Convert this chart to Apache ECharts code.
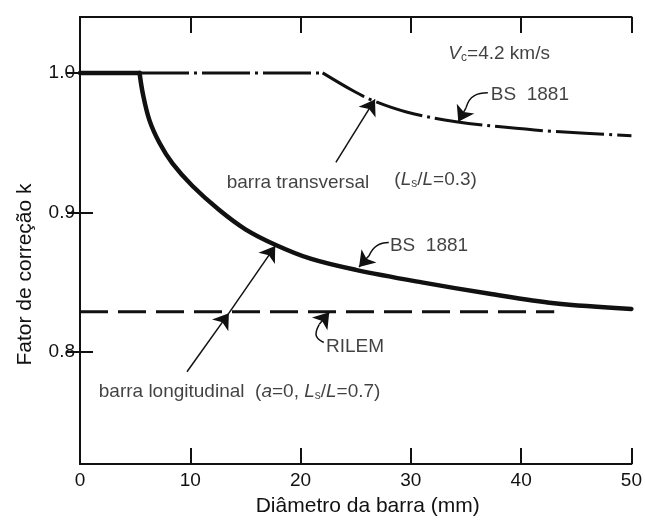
<!DOCTYPE html>
<html><head><meta charset="utf-8">
<script src="https://cdn.jsdelivr.net/npm/echarts@6/dist/echarts.min.js"></script>
<style>html,body{margin:0;padding:0;background:#fff}#c{width:645px;height:522px}</style>
</head><body><div id="c"></div>
<script>
// ---- data ----
const xTicks = [0, 10, 20, 30, 40, 50];
const yTicks = [0.8, 0.9, 1.0];
// BS 1881, longitudinal bar: flat part and decaying part
const longitudinalFlat = [[0,1.0],[5.4,1.0]];
const longitudinalBS = [[5.4,1.0],[5.7,0.985],[6.3,0.966],[7.2,0.95],[8.4,0.935],[10.2,0.919],[12.6,0.902],[15,0.888],[17.7,0.877],[20.9,0.867],[25,0.859],[31,0.85],[37,0.842],[43,0.835],[50,0.831]];
// BS 1881, transverse bar: flat part and decaying part
const transversalFlat = [[0,1.0],[22,1.0]];
const transversalBS = [[22,1.0],[24.8,0.987],[26.6,0.98],[29.6,0.972],[34.1,0.965],[38.6,0.961],[43.1,0.958],[50,0.955]];
const rilem = [[0,0.829],[43,0.829]];
// annotation texts and their anchor points (data coordinates)
const noteTexts = ['{i|V}{s|c}=4.2 km/s','BS  1881','barra transversal','({i|L}{s|s}/{i|L}=0.3)','BS  1881','RILEM','barra longitudinal  ({i|a}=0, {i|L}{s|s}/{i|L}=0.7)'];
const noteAnchors = [[33.4,1.014],[37.25,0.984],[13.3,0.921],[28.5,0.9236],[28.1,0.876],[22.3,0.8036],[1.7,0.772]];
// leader hooks (data coordinates)
const hookPaths = [
  [[36.98,0.9857],[35.73,0.9836],[35.0,0.975]],
  [[28.0,0.8786],[26.93,0.8764],[26.2,0.869]],
  [[22.1,0.807],[21.4,0.8129],[21.7,0.82]]
];
// arrow segments ending in an arrowhead
const arrowSegs = [
  [[23.2,0.936],[26.75,0.981]],
  [[9.7,0.786],[13.5,0.828]],
  [[13.5,0.828],[17.7,0.876]],
  [[35.0,0.975],[34.3,0.965]],
  [[26.2,0.869],[25.3,0.861]],
  [[21.7,0.82],[22.6,0.8286]]
];

const FONT = 'Liberation Sans, Arial, sans-serif';
const INK = '#111';
const chart = echarts.init(document.getElementById('c'), null, {renderer:'canvas'});
const rich = {
  i: {fontStyle:'italic', fontSize:19, fontFamily:FONT, color:INK},
  s: {fontSize:12, fontFamily:FONT, color:INK, padding:[9,0,0,0]}
};
const axisLineStyle = {lineStyle:{color:INK, width:2}};
const solidStyle = {color:INK, width:4.5, cap:'round', join:'round'};
const dashDot = {color:INK, width:3, type:[48,5,3,5]};
const series = [
  {type:'line', data:longitudinalFlat, symbol:'none', lineStyle:solidStyle, z:4},
  {type:'line', data:longitudinalBS, smooth:0.35, symbol:'none', lineStyle:solidStyle, z:4},
  {type:'line', data:transversalFlat, symbol:'none', lineStyle:dashDot, z:3},
  {type:'line', data:transversalBS, smooth:0.35, symbol:'none', lineStyle:dashDot, z:3},
  {type:'line', data:rilem, symbol:'none',
   lineStyle:{color:INK, width:3, type:[28,10]}, z:3}
];
hookPaths.forEach(p => series.push({type:'line', data:p, smooth:0.5, symbol:'none',
  lineStyle:{color:INK, width:1.5}, z:5, silent:true}));
series.push({type:'lines', coordinateSystem:'cartesian2d', polyline:false,
  symbol:['none','arrow'], symbolSize:[8,15],
  lineStyle:{color:INK, width:1.5, opacity:1, curveness:0},
  data: arrowSegs.map(c => ({coords:c})), z:6, silent:true});
series.push({type:'scatter', symbolSize:0, silent:true, z:7,
  data: noteAnchors.map((p,i) => ({value:p, label:{formatter:noteTexts[i]}})),
  label:{show:true, position:'right', distance:0, fontSize:19, fontFamily:FONT, color:INK, rich:rich}});

chart.setOption({
  animation:false,
  backgroundColor:'#fff',
  grid:{left:80, right:8, top:17, bottom:57},
  xAxis:[
    {type:'value', min:0, max:50, interval:10, position:'bottom',
     axisLine:axisLineStyle, axisTick:{inside:true, length:16, lineStyle:{color:INK, width:2}},
     axisLabel:{fontSize:19, color:INK, fontFamily:FONT, margin:7},
     splitLine:{show:false},
     name:'Diâmetro da barra (mm)', nameLocation:'middle', nameGap:32,
     nameTextStyle:{fontSize:21, color:INK, fontFamily:FONT, padding:[0,0,0,24]}},
    {type:'value', min:0, max:50, interval:10, position:'top',
     axisLine:axisLineStyle, axisTick:{inside:true, length:16, lineStyle:{color:INK, width:2}},
     axisLabel:{show:false}, splitLine:{show:false}}
  ],
  yAxis:[
    {type:'value', min:0.72, max:1.04, position:'left',
     axisLine:axisLineStyle,
     axisTick:{inside:true, length:13, customValues:yTicks, lineStyle:{color:INK, width:2}},
     axisLabel:{fontSize:19, color:INK, fontFamily:FONT, margin:5, customValues:yTicks, formatter:v => v.toFixed(1)},
     splitLine:{show:false},
     name:'Fator de correção k', nameLocation:'middle', nameGap:44, nameRotate:90,
     nameTextStyle:{fontSize:21, color:INK, fontFamily:FONT, padding:[0,68,0,0]}},
    {type:'value', min:0.72, max:1.04, position:'right',
     axisLine:axisLineStyle,
     axisTick:{inside:true, length:13, customValues:yTicks, lineStyle:{color:INK, width:2}},
     axisLabel:{show:false}, splitLine:{show:false}}
  ],
  series:series
});
</script></body></html>
